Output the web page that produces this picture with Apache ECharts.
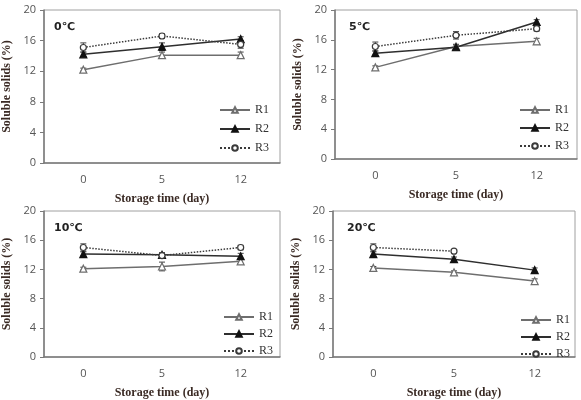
<!DOCTYPE html>
<html>
<head>
<meta charset="utf-8">
<script src="https://cdn.jsdelivr.net/npm/echarts@6/dist/echarts.min.js"></script>
<style>
  html, body { margin: 0; padding: 0; background: #fff; }
  #main { width: 581px; height: 400px; }
</style>
</head>
<body>
<div id="main"></div>
<script>
// storage days (x categories) and panel temperatures
const days = ['0', '5', '12'];
const temps = ['0℃', '5℃', '10℃', '20℃'];
const yTicks = [0, 4, 8, 12, 16, 20];

// soluble solids (%) per panel, one row per temperature
const r1Values = [
  [12.2, 14.1, 14.1],
  [12.3, 15.1, 15.8],
  [12.1, 12.4, 13.1],
  [12.2, 11.6, 10.4]
];
const r2Values = [
  [14.2, 15.2, 16.2],
  [14.2, 15.0, 18.4],
  [14.1, 14.0, 13.8],
  [14.1, 13.4, 11.9]
];
const r3Values = [
  [15.1, 16.6, 15.5],
  [15.1, 16.6, 17.5],
  [15.0, 13.9, 15.0],
  [15.0, 14.5, null]
];
// error bar half-lengths
const r1Err = [[0.2, 0.4, 0.4], [0.2, 0.3, 0.4], [0.2, 0.6, 0.3], [0.2, 0.2, 0.3]];
const r2Err = [[0.3, 0.5, 0.3], [0.3, 0.3, 0.3], [0.3, 0.3, 0.4], [0.3, 0.3, 0.3]];
const r3Err = [[0.6, 0.3, 0.5], [0.6, 0.5, 0.3], [0.5, 0.3, 0.3], [0.5, 0.2, null]];

const chart = echarts.init(document.getElementById('main'), null, { renderer: 'canvas' });

const gridPos = [
  { left: 40, top: 10, width: 240, height: 153 },
  { left: 335, top: 10, width: 242, height: 149 },
  { left: 40, top: 211, width: 240, height: 152 },
  { left: 333, top: 211, width: 242, height: 153 }
];
const legendPos = [
  { left: 219, top: 103, itemGap: 5 },
  { left: 519, top: 103, itemGap: 4 },
  { left: 223, top: 310, itemGap: 3 },
  { left: 520, top: 313, itemGap: 3 }
];

const serifBold = { fontFamily: 'Liberation Serif', fontWeight: 'bold', fontSize: 12, color: '#3a2a24' };

const seriesStyle = {
  R1: { line: '#6e6e6e', type: 'solid', symbol: 'triangle', fill: '#fff', border: '#6e6e6e', size: 7 },
  R2: { line: '#2e2e2e', type: 'solid', symbol: 'triangle', fill: '#111', border: '#111', size: 7 },
  R3: { line: '#3a3a3a', type: 'dotted', symbol: 'circle', fill: '#fff', border: '#3a3a3a', size: 6 }
};

function errorSeries(i, vals, errs) {
  const data = [];
  vals.forEach((v, k) => {
    if (v !== null) data.push([k, v, errs[k]]);
  });
  return {
    type: 'custom',
    xAxisIndex: i,
    yAxisIndex: i,
    z: 1,
    silent: true,
    data: data,
    renderItem: function (params, api) {
      const x = api.value(0), y = api.value(1), e = api.value(2);
      const hi = api.coord([x, y + e]);
      const lo = api.coord([x, y - e]);
      const w = 3;
      const st = { stroke: '#444', lineWidth: 1 };
      return {
        type: 'group',
        children: [
          { type: 'line', shape: { x1: hi[0], y1: hi[1], x2: lo[0], y2: lo[1] }, style: st },
          { type: 'line', shape: { x1: hi[0] - w, y1: hi[1], x2: hi[0] + w, y2: hi[1] }, style: st },
          { type: 'line', shape: { x1: lo[0] - w, y1: lo[1], x2: lo[0] + w, y2: lo[1] }, style: st }
        ]
      };
    }
  };
}

function lineSeries(i, name, vals) {
  const s = seriesStyle[name];
  return {
    name: name,
    type: 'line',
    xAxisIndex: i,
    yAxisIndex: i,
    z: 3,
    data: vals,
    symbol: s.symbol,
    symbolSize: s.size,
    showAllSymbol: true,
    lineStyle: { color: s.line, width: 1.5, type: s.type },
    itemStyle: { color: s.fill, borderColor: s.border, borderWidth: 1.2 }
  };
}

const grid = [], xAxis = [], yAxis = [], legend = [], title = [], series = [];

temps.forEach((t, i) => {
  grid.push(Object.assign({ show: true, borderColor: '#a0a0a0', borderWidth: 1, containLabel: false }, gridPos[i]));
  xAxis.push({
    type: 'category',
    gridIndex: i,
    data: days,
    boundaryGap: true,
    name: 'Storage time (day)',
    nameLocation: 'middle',
    nameGap: 30,
    nameTextStyle: serifBold,
    axisLine: { lineStyle: { color: '#7a7a7a', width: 1.5 } },
    axisTick: { alignWithLabel: true, length: 4, lineStyle: { color: '#7a7a7a' } },
    axisLabel: { margin: 11, fontSize: 11, color: '#555', fontFamily: 'Open Sans' }
  });
  yAxis.push({
    type: 'value',
    gridIndex: i,
    min: 0,
    max: 20,
    interval: 4,
    name: 'Soluble solids (%)',
    nameLocation: 'middle',
    nameGap: 31,
    nameTextStyle: serifBold,
    splitLine: { show: false },
    axisLine: { show: true, lineStyle: { color: '#7a7a7a', width: 1.5 } },
    axisTick: { show: true, length: 4, lineStyle: { color: '#7a7a7a' } },
    axisLabel: { margin: 8, fontSize: 11, color: '#555', fontFamily: 'Open Sans',
      formatter: v => yTicks.includes(v) ? String(v) : '' }
  });
  title.push({
    text: t,
    left: gridPos[i].left + 9,
    top: gridPos[i].top + 7,
    textStyle: { fontSize: 11, fontWeight: 'bold', color: '#222', fontFamily: 'DejaVu Sans' }
  });
  legend.push(Object.assign({
    orient: 'vertical',
    data: ['R1', 'R2', 'R3'],
    itemWidth: 30,
    itemHeight: 7,
    padding: 0,
    selectedMode: false,
    textStyle: { fontFamily: 'Liberation Serif', fontSize: 12, color: '#333', lineHeight: 14 }
  }, legendPos[i]));

  series.push(errorSeries(i, r1Values[i], r1Err[i]));
  series.push(errorSeries(i, r2Values[i], r2Err[i]));
  series.push(errorSeries(i, r3Values[i], r3Err[i]));
  series.push(lineSeries(i, 'R1', r1Values[i]));
  series.push(lineSeries(i, 'R2', r2Values[i]));
  series.push(lineSeries(i, 'R3', r3Values[i]));
});

chart.setOption({
  animation: false,
  backgroundColor: '#fff',
  title: title,
  grid: grid,
  xAxis: xAxis,
  yAxis: yAxis,
  legend: legend,
  series: series
});
</script>
</body>
</html>
